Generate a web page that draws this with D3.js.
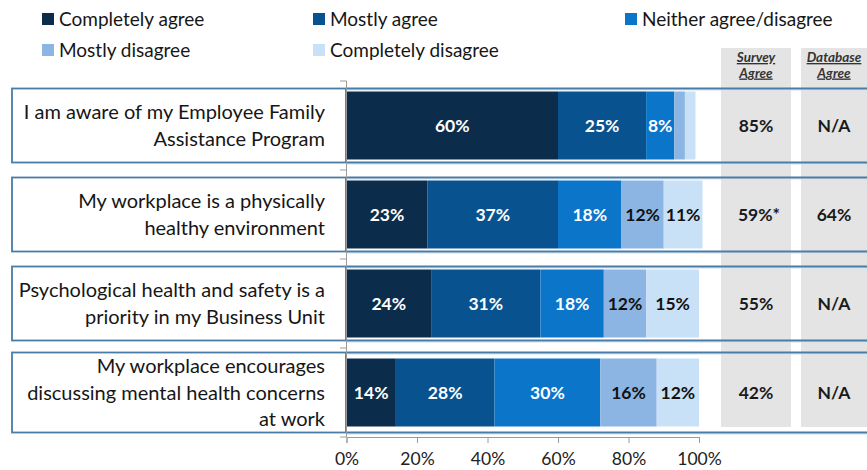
<!DOCTYPE html>
<html>
<head>
<meta charset="utf-8">
<script src="https://cdn.jsdelivr.net/npm/d3@7/dist/d3.min.js"></script>
<style>
  html, body { margin: 0; padding: 0; background: #fff; }
  svg { display: block; font-family: Lato, "Open Sans", sans-serif; }
</style>
</head>
<body>
<svg id="chart" width="867" height="470"></svg>
<script>
// Statements (each entry is the list of wrapped lines)
const statements = [
  ["I am aware of my Employee Family", "Assistance Program"],
  ["My workplace is a physically", "healthy environment"],
  ["Psychological health and safety is a", "priority in my Business Unit"],
  ["My workplace encourages", "discussing mental health concerns", "at work"]
];

const seriesNames = ["Completely agree", "Mostly agree", "Neither agree/disagree", "Mostly disagree", "Completely disagree"];
const seriesColors = ["#0c2c4c", "#08538f", "#0a75c9", "#8cb5e3", "#c9e1f6"];
const labelColors = ["#ffffff", "#ffffff", "#ffffff", "#111111", "#111111"];

// Percent of respondents per answer, one array per answer
const completelyAgree    = [60, 23, 24, 14];
const mostlyAgree        = [25, 37, 31, 28];
const neitherAgree       = [8, 18, 18, 30];
const mostlyDisagree     = [3, 12, 12, 16];
const completelyDisagree = [3, 11, 15, 12];
// Thin segments in the first row are left unlabelled
const showLabel          = [[true, true, true, false, false], [true, true, true, true, true], [true, true, true, true, true], [true, true, true, true, true]];

const surveyAgree   = ["85%", "59%*", "55%", "42%"];
const databaseAgree = ["N/A", "64%", "N/A", "N/A"];

const xTicks = [0, 20, 40, 60, 80, 100];

const seriesValues = [completelyAgree, mostlyAgree, neitherAgree, mostlyDisagree, completelyDisagree];

const svg = d3.select("#chart");
const W = 867;

const x = d3.scaleLinear().domain([0, 100]).range([346.5, 699]);
const y = d3.scaleBand().domain(d3.range(statements.length))
  .range([81, 437]).paddingInner(0.236).paddingOuter(0.118);

const frameColor = "#4a7ca8";

// Grey summary columns
const cols = [
  { x0: 721, x1: 791, title: ["Survey", "Agree"], values: surveyAgree },
  { x0: 801, x1: 872, title: ["Database", "Agree"], values: databaseAgree }
];
cols.forEach(c => {
  svg.append("rect").attr("x", c.x0).attr("y", 48).attr("width", c.x1 - c.x0).attr("height", 379)
    .attr("fill", "#e4e4e4");
  c.title.forEach((t, i) => {
    svg.append("text").attr("x", (c.x0 + Math.min(c.x1, 867)) / 2).attr("y", 62 + i * 15.5)
      .attr("text-anchor", "middle").attr("font-size", 13.5).attr("font-weight", 700)
      .attr("font-style", "italic").attr("text-decoration", "underline").attr("fill", "#333")
      .text(t);
  });
});

// Row frames: box around statement + rules across the bar and summary area
const rows = statements.map((lines, i) => {
  const c = y(i) + y.bandwidth() / 2;
  const h = Math.max(y.bandwidth() + 6, lines.length * 26 + 2);
  return { i, lines, c, top: c - h / 2, bottom: c + h / 2 };
});

const rowG = svg.append("g");
rows.forEach(r => {
  [r.top, r.bottom].forEach(yy => {
    rowG.append("line").attr("x1", 346).attr("x2", W).attr("y1", yy + 1.5).attr("y2", yy + 1.5)
      .attr("stroke", "#d3e4f1").attr("stroke-width", 1.2);
    rowG.append("line").attr("x1", 346).attr("x2", W).attr("y1", yy).attr("y2", yy)
      .attr("stroke", frameColor).attr("stroke-width", 2);
  });
  rowG.append("rect").attr("x", 12).attr("y", r.top).attr("width", 334).attr("height", r.bottom - r.top)
    .attr("fill", "#fff").attr("stroke", frameColor).attr("stroke-width", 1.8);
  const lh = 26.5;
  r.lines.forEach((t, k) => {
    rowG.append("text").attr("x", 325).attr("y", r.c + (k - (r.lines.length - 1) / 2) * lh)
      .attr("dy", "0.35em").attr("text-anchor", "end").attr("font-size", 20).attr("fill", "#161616")
      .text(t);
  });
});

// Stacked bars
const stacked = statements.map((_, i) => {
  let acc = 0;
  return seriesValues.map((vals, s) => {
    const v = vals[i];
    const seg = { row: i, s, v, x0: acc, x1: acc + v };
    acc += v;
    return seg;
  });
});

const barG = svg.append("g");
stacked.forEach(segs => {
  segs.forEach(d => {
    barG.append("rect").attr("x", x(d.x0)).attr("y", y(d.row))
      .attr("width", x(d.x1) - x(d.x0)).attr("height", y.bandwidth())
      .attr("fill", seriesColors[d.s]);
    if (showLabel[d.row][d.s]) {
      barG.append("text").attr("x", (x(d.x0) + x(d.x1)) / 2).attr("y", y(d.row) + y.bandwidth() / 2)
        .attr("dy", "0.36em").attr("text-anchor", "middle").attr("font-size", 17.5).attr("font-weight", 700)
        .attr("fill", labelColors[d.s]).text(d.v + "%");
    }
  });
});

// Summary values
cols.forEach(c => {
  c.values.forEach((v, i) => {
    svg.append("text").attr("x", (c.x0 + Math.min(c.x1, 867)) / 2 + (v.endsWith("*") ? 3 : 0))
      .attr("y", y(i) + y.bandwidth() / 2).attr("dy", "0.36em").attr("text-anchor", "middle")
      .attr("font-size", 17.5).attr("font-weight", 700).attr("fill", "#1a1a1a").text(v);
  });
});

// Category axis (vertical line with band boundary ticks)
const step = y.step();
const boundaries = d3.range(statements.length + 1).map(i => 81 + i * step);
svg.append("line").attr("x1", 346.5).attr("x2", 346.5).attr("y1", 81).attr("y2", 437)
  .attr("stroke", "#9a9a9a").attr("stroke-width", 1);
boundaries.forEach(b => {
  svg.append("line").attr("x1", 340).attr("x2", 346.5).attr("y1", b).attr("y2", b)
    .attr("stroke", "#9a9a9a").attr("stroke-width", 1);
});

// Percentage axis
const xAxis = d3.axisBottom(x).tickValues(xTicks).tickFormat(d => d + "%").tickSize(6).tickPadding(10);
const xg = svg.append("g").attr("transform", "translate(0,437)").call(xAxis);
xg.select(".domain").attr("stroke", "#9a9a9a");
xg.selectAll(".tick line").attr("stroke", "#9a9a9a");
xg.selectAll(".tick text").attr("font-size", 17.5).attr("fill", "#222").attr("font-family", "Lato, 'Open Sans', sans-serif");

// Legend
const legendPos = [
  [42, 19], [313, 19], [625, 19],
  [42, 50], [313, 50]
];
seriesNames.forEach((n, s) => {
  const [lx, ly] = legendPos[s];
  svg.append("rect").attr("x", lx).attr("y", ly - 6).attr("width", 12).attr("height", 12)
    .attr("fill", seriesColors[s]);
  svg.append("text").attr("x", lx + 17).attr("y", ly).attr("dy", "0.35em")
    .attr("font-size", 19).attr("fill", "#161616").text(n);
});
</script>
</body>
</html>
